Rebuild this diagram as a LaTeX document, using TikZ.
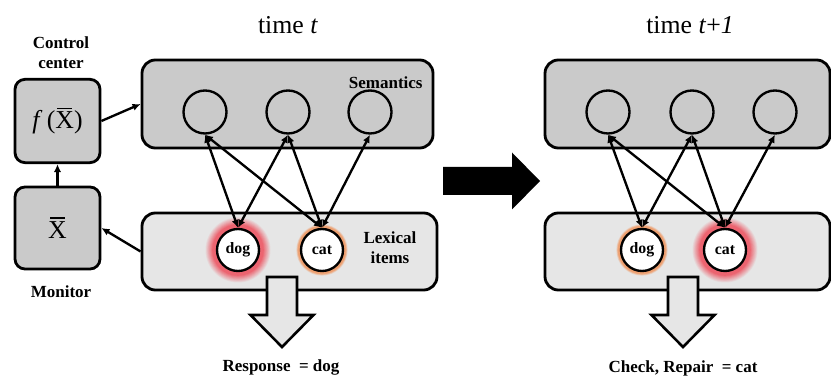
\documentclass[tikz,border=0pt]{standalone}
\usepackage{fontspec}
\setmainfont{Liberation Serif}
\usetikzlibrary{arrows.meta, positioning}
\definecolor{semgray}{RGB}{202, 202, 202}
\definecolor{lexgray}{RGB}{230, 230, 230}
\definecolor{glowred}{RGB}{236, 100, 112}
\definecolor{gloworange}{RGB}{238, 160, 112}

\newcommand{\lblfont}{\fontsize{14.5}{17}\selectfont\bfseries}
% X with a heavy bar on top
\newcommand{\barX}{{\setbox0\hbox{X}\rlap{\hbox to\wd0{\hss\raisebox{\dimexpr\ht0+2.2pt\relax}{\rule{0.8\wd0}{1.4pt}}\hss}}\box0}}

\begin{document}
\begin{tikzpicture}[
    ctrlbox/.style={draw, line width=2.4pt, fill=semgray, rounded corners=3mm, minimum width=2.55cm, minimum height=2.5cm, inner sep=0pt, font=\fontsize{22}{24}\selectfont},
    sembox/.style={draw, line width=2.4pt, fill=semgray, rounded corners=4mm, minimum height=2.64cm},
    lexbox/.style={draw, line width=2.4pt, fill=lexgray, rounded corners=4mm, minimum height=2.31cm},
    semnode/.style={circle, draw, line width=2pt, minimum size=1.29cm, inner sep=0pt},
    wordnode/.style={circle, draw, fill=white, line width=2pt, minimum size=1.26cm, inner sep=0pt, font=\fontsize{13.5}{15}\selectfont\bfseries},
    lbl/.style={font=\lblfont, align=center},
    timelbl/.style={font=\fontsize{22}{24}\selectfont},
    link/.style={{Latex[length=2.4mm, width=2.2mm]}-{Latex[length=2.4mm, width=2.2mm]}, line width=2pt},
    arrow/.style={-{Latex[length=2.4mm, width=2.2mm]}, line width=2pt},
    outarrow/.style={draw, fill=lexgray, line width=2.2pt, line join=miter}
]
\useasboundingbox (0,0) rectangle (24.93,11.31);

% Monitor and control center
\node (fx) [ctrlbox] at (1.725,7.68) {\textit{f}\,(\barX)};
\node (xbar) [ctrlbox, minimum height=2.46cm] at (1.725,4.47) {\barX};
\node (ctrl_lbl) [lbl] at (1.83,9.72) {Control\\center};
\node (mon_lbl) [lbl] at (1.83,2.55) {Monitor};

% Layers at time t
\node (semL) [sembox, minimum width=8.73cm] at (8.625,8.19) {};
\node (lexL) [lexbox, minimum width=8.85cm] at (8.685,3.765) {};
\node (timeL) [timelbl] at (8.64,10.56) {time \textit{t}};
\node (sem_lbl) [lbl, anchor=east] at (12.8,8.82) {Semantics};
\node (lex_lbl) [lbl] at (11.7,3.87) {Lexical\\items};

% Layers at time t+1
\node (semR) [sembox, minimum width=8.55cm] at (20.625,8.19) {};
\node (lexR) [lexbox, minimum width=8.55cm] at (20.625,3.765) {};
\node (timeR) [timelbl] at (20.7,10.56) {time \textit{t}+\textit{1}};

% Halos: rings stepping from the box grey to the glow colour
\coordinate (dogL_c) at (7.14,3.81);
\coordinate (catL_c) at (9.66,3.81);
\coordinate (dogR_c) at (19.26,3.81);
\coordinate (catR_c) at (21.75,3.81);
\foreach \k in {0,...,14} {
  \pgfmathsetmacro\r{1.0-0.025*\k}
  \pgfmathsetmacro\m{min(100,11*\k)}
  \fill[glowred!\m!lexgray] (dogL_c) circle (\r);
  \fill[glowred!\m!lexgray] (catR_c) circle (\r);
}
\foreach \k in {0,...,6} {
  \pgfmathsetmacro\r{0.79-0.02*\k}
  \pgfmathsetmacro\m{min(100,30*\k)}
  \fill[gloworange!\m!lexgray] (catL_c) circle (\r);
  \fill[gloworange!\m!lexgray] (dogR_c) circle (\r);
}

% Semantic units
\node (s1L) [semnode] at (6.15,7.95) {};
\node (s2L) [semnode] at (8.64,7.95) {};
\node (s3L) [semnode] at (11.1,7.95) {};
\node (s1R) [semnode] at (18.24,7.95) {};
\node (s2R) [semnode] at (20.76,7.95) {};
\node (s3R) [semnode] at (23.25,7.95) {};

% Word units
\node (dogL) [wordnode] at (dogL_c) {dog};
\node (catL) [wordnode] at (catL_c) {cat};
\node (dogR) [wordnode] at (dogR_c) {dog};
\node (catR) [wordnode] at (catR_c) {cat};

% Arrows
\draw [arrow] (fx.east) -- (semL.west);
\draw [arrow] (lexL.west) -- (xbar.east);
\draw [arrow] (xbar) -- (fx);

\foreach \s in {L, R} {
  \draw [link] (dog\s.north) -- (s1\s.south);
  \draw [link] (dog\s.north) -- (s2\s.south);
  \draw [link] (cat\s.north) -- (s1\s.south);
  \draw [link] (cat\s.north) -- (s2\s.south);
  \draw [link] (cat\s.north) -- (s3\s.south);
}

% Output arrows
\foreach \x in {8.46, 20.49}
  \draw [outarrow] (\x-0.45,3.0) -- (\x+0.45,3.0) -- (\x+0.45,1.86) -- (\x+0.945,1.86)
    -- (\x,0.9) -- (\x-0.945,1.86) -- (\x-0.45,1.86) -- cycle;
\node (resp_lbl) [lbl] at (8.43,0.3) {Response \ = dog};
\node (check_lbl) [lbl] at (20.49,0.25) {Check, Repair \ = cat};

% Time step
\fill (13.29,5.46) -- (15.36,5.46) -- (15.36,5.025) -- (16.2,5.88) -- (15.36,6.735)
  -- (15.36,6.3) -- (13.29,6.3) -- cycle;

\end{tikzpicture}
\end{document}
